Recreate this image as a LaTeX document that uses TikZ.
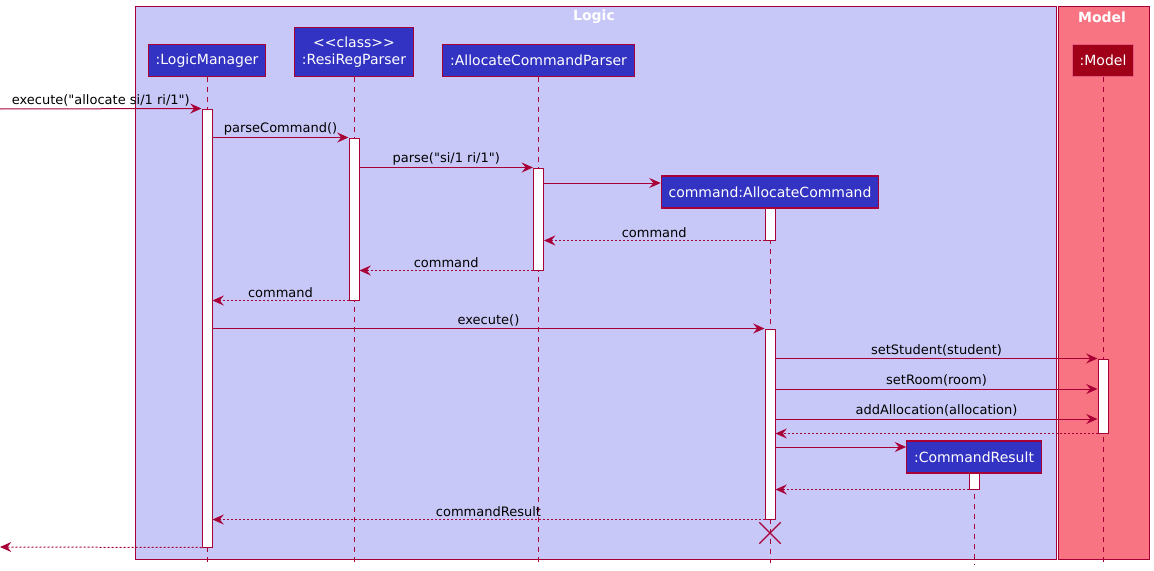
\documentclass[tikz,border=0pt]{standalone}
\usepackage{fontspec}
\setmainfont{DejaVu Sans}
\newfontfamily\umlfont{DejaVu Sans}
\usepackage{tikz}
\usetikzlibrary{
    arrows.meta,
    positioning,
    fit,
    calc,
    shapes.misc
}
\tikzset{
  part/.style     = {draw=umlRed, fill=partBlue, text=white, line width=0.9pt,
                     minimum height=24pt, inner xsep=5.5pt, align=center,
                     font=\umlfont\fontsize{10.5}{13}\selectfont},
  act/.style      = {draw=umlRed, fill=white, line width=0.75pt, inner sep=0pt},
  life/.style     = {umlRed, line width=0.75pt, dash pattern=on 3.75pt off 3.75pt},
  msg/.style      = {-{Stealth[length=8.5pt,width=7.5pt,inset=3pt]}, umlRed, line width=0.75pt},
  ret/.style      = {msg, dash pattern=on 1.5pt off 1.5pt},
  lbl/.style      = {above, text=black, inner sep=1.5pt, font=\umlfont\fontsize{9.75}{11}\selectfont},
  grp/.style      = {draw=umlRed, line width=0.75pt},
  grptitle/.style = {text=white, font=\umlfont\bfseries\fontsize{10.5}{12}\selectfont}
}
\definecolor{umlRed}{RGB}{168,0,54}
\definecolor{partBlue}{RGB}{51,51,195}
\definecolor{logicBg}{RGB}{200,200,248}
\definecolor{modelBg}{RGB}{249,116,131}
\definecolor{modelRed}{RGB}{160,0,24}
\definecolor{modelEdge}{RGB}{230,90,125}

\begin{document}
\begin{tikzpicture}[x=0.75pt, y=-0.75pt, every node/.style={font=\umlfont\fontsize{9.75}{11}\selectfont}]
\useasboundingbox (0,0) rectangle (1154,571);
% group boxes
\draw[grp, fill=logicBg] (135,6) rectangle (1056,559);
\draw[grp, fill=modelBg] (1058,6) rectangle (1149,559);
\node[grptitle] (tLogic) at (594,17) {Logic};
\node[grptitle] (tModel) at (1102,17) {Model};

% participants
\node[part, anchor=south] (lm) at (207,77) {:LogicManager};
\node[part, anchor=south, minimum height=36.75pt] (rp) at (354,77) {{<}{<}class{>}{>}\\:ResiRegParser};
\node[part, anchor=south] (ap) at (538.5,77) {:AllocateCommandParser};
\node[part, fill=modelRed, draw=modelEdge, anchor=south] (mo) at (1103,77) {:Model};
\node[part] (ac) at (770,192) {command:AllocateCommand};
\node[part] (cr) at (974,457) {:CommandResult};

% lifelines
\draw[life] (lm.south) -- (lm.south |- 0,563);
\draw[life] (rp.south) -- (rp.south |- 0,563);
\draw[life] (ap.south) -- (ap.south |- 0,563);
\draw[life] (ac.south) -- (ac.south |- 0,563);
\draw[life] (cr.south) -- (cr.south |- 0,565);
\draw[life] (mo.south) -- (mo.south |- 0,563);

% activations
\node[act, fit={(202,109) (212,547)}] (aLM) {};
\node[act, fit={(349,138) (359,300)}] (aRP) {};
\node[act, fit={(533.5,168) (543.5,270)}] (aAP) {};
\node[act, fit={(765,208) (775,240)}] (aC1) {};
\node[act, fit={(765,329) (775,519)}] (aC2) {};
\node[act, fit={(1098,359) (1108,433)}] (aMo) {};
\node[act, fit={(969,473) (979,489)}] (aCR) {};
\node[draw=umlRed, cross out, line width=1pt, minimum size=15pt, inner sep=0pt] (kill) at (770,533) {};

% messages
\coordinate (in) at (0,109);
\coordinate (out) at (0,547);
\path ([yshift=6.75pt]ac.west) coordinate (acIn);
\path ([yshift=7.5pt]cr.west) coordinate (crIn);
\draw[msg] (in) -- (aLM.north west) node[lbl, midway] {execute("allocate si/1 ri/1")};
\draw[msg] (aLM.east |- aRP.north) -- (aRP.north west) node[lbl, midway] {parseCommand()};
\draw[msg] (aRP.east |- aAP.north) -- (aAP.north west) node[lbl, midway] {parse("si/1 ri/1")};
\draw[msg] (aAP.east |- acIn) -- (acIn);
\draw[ret] (aC1.south west) -- (aAP.east |- aC1.south) node[lbl, midway] {command};
\draw[ret] (aAP.south west) -- (aRP.east |- aAP.south) node[lbl, midway] {command};
\draw[ret] (aRP.south west) -- (aLM.east |- aRP.south) node[lbl, midway] {command};
\draw[msg] (aLM.east |- aC2.north) -- (aC2.north west) node[lbl, midway] {execute()};
\draw[msg] (aC2.east |- aMo.north) -- (aMo.north west) node[lbl, midway] {setStudent(student)};
\draw[msg] (aC2.east |- 0,389) -- (aMo.west |- 0,389) node[lbl, midway] {setRoom(room)};
\draw[msg] (aC2.east |- 0,419) -- (aMo.west |- 0,419) node[lbl, midway] {addAllocation(allocation)};
\draw[ret] (aMo.south west) -- (aC2.east |- aMo.south);
\draw[msg] (aC2.east |- crIn) -- (crIn);
\draw[ret] (aCR.south west) -- (aC2.east |- aCR.south);
\draw[ret] (aC2.south west) -- (aLM.east |- aC2.south) node[lbl, midway] {commandResult};
\draw[ret] (aLM.south west) -- (out);
\end{tikzpicture}
\end{document}
